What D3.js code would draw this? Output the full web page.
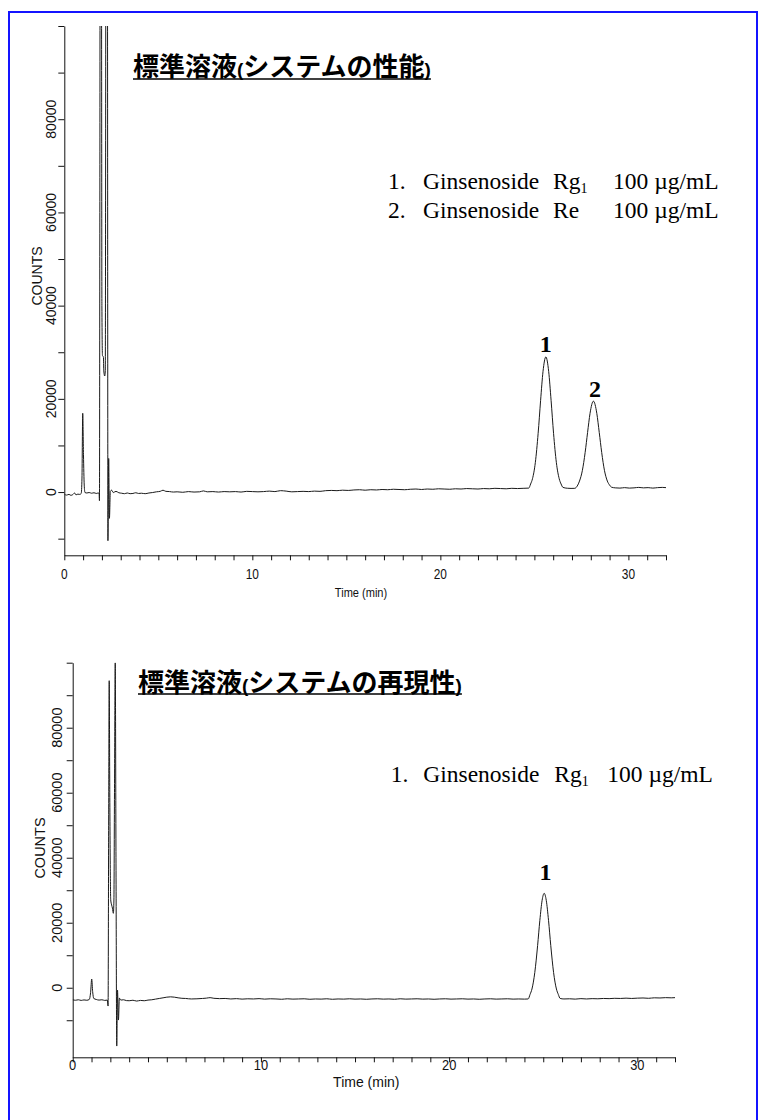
<!DOCTYPE html>
<html><head><meta charset="utf-8">
<script src="https://cdn.jsdelivr.net/npm/d3@7"></script>
<style>html,body{margin:0;padding:0;background:#fff;} svg{display:block;}</style>
</head><body>
<svg id="c" width="760" height="1120"></svg>
<script>
// ---------- DATA ----------
const timeMax = 32;
const countMax = 100000;
const timeTicks = d3.range(0, 33, 1);
const timeLabels = [0, 10, 20, 30];
const countTicks = d3.range(-10000, 100001, 10000);
const countLabels = [0, 20000, 40000, 60000, 80000];

const titleTop = ["標準溶液", "(", "システムの性能", ")"];
const titleBottom = ["標準溶液", "(", "システムの再現性", ")"];

const legendTop = [
  {num: "1.", name: "Ginsenoside", comp: "Rg", sub: "1", conc: "100 µg/mL"},
  {num: "2.", name: "Ginsenoside", comp: "Re", sub: "", conc: "100 µg/mL"}
];
const legendBottom = [
  {num: "1.", name: "Ginsenoside", comp: "Rg", sub: "1", conc: "100 µg/mL"}
];

// peak label anchors [time, counts, label]
const peakLabelsTop = [[25.61, 30060, "1"], [28.23, 20420, "2"]];
const peakLabelsBottom = [[25.12, 33140, "1"]];

// chromatogram traces [time (min), counts]
const traceTop = [
[0.00,-450],[0.12,-650],[0.25,-500],[0.35,-700],[0.45,-550],[0.55,-200],[0.62,-600],[0.72,-450],[0.82,-500],[0.90,-300],
[0.94,3000],[0.98,16900],[1.02,8000],[1.06,1500],[1.10,-100],[1.20,-200],[1.32,-100],[1.45,-250],[1.58,-150],[1.70,-300],
[1.80,-200],[1.85,-250],[1.87,-1860],[1.89,60000],[1.91,140000],[1.97,140000],[2.00,40000],[2.03,29300],[2.08,29000],[2.10,26000],
[2.15,24900],[2.18,26000],[2.22,140000],[2.29,140000],[2.32,-10440],[2.36,7200],[2.40,-5640],[2.45,200],[2.52,400],[2.60,-100],
[2.75,150],[2.90,-150],[3.05,-250],[3.20,-350],[3.35,-200],[3.50,-350],[3.65,-300],[3.80,-150],[3.95,-300],[4.10,-250],
[4.30,-350],[4.50,-200],[4.70,-100],[4.90,50],[5.10,150],[5.25,400],[5.40,150],[5.60,100],[5.80,0],[6.00,50],
[6.30,-50],[6.60,100],[6.90,0],[7.20,50],[7.40,250],[7.60,50],[7.90,100],[8.20,0],[8.50,100],[8.80,50],
[9.10,100],[9.40,0],[9.70,150],[10.00,100],[10.30,50],[10.60,100],[10.90,200],[11.20,100],[11.50,300],[11.80,200],
[12.10,50],[12.40,100],[12.70,150],[13.00,100],[13.30,200],[13.60,150],[13.90,300],[14.20,350],[14.50,300],[14.80,400],
[15.10,350],[15.40,450],[15.70,500],[16.00,400],[16.30,500],[16.60,450],[16.90,550],[17.20,500],[17.50,600],[17.80,550],
[18.10,500],[18.40,600],[18.70,650],[19.00,550],[19.30,650],[19.60,600],[19.90,700],[20.20,650],[20.50,600],[20.80,700],
[21.10,650],[21.40,750],[21.70,700],[22.00,650],[22.30,750],[22.60,700],[22.90,800],[23.20,750],[23.50,700],[23.80,800],
[24.10,750],[24.40,800],[24.70,850],[24.80,1730],[24.90,2860],[25.05,6300],[25.20,12600],[25.33,19600],[25.46,25900],[25.61,29000],
[25.76,25900],[25.89,19600],[26.02,12600],[26.17,6300],[26.32,2860],[26.42,1730],[26.52,1000],[26.75,820],[26.95,780],[27.15,800],
[27.28,1300],[27.40,2360],[27.55,4580],[27.70,8500],[27.83,12790],[27.96,16890],[28.14,19500],[28.32,16890],[28.45,12790],[28.58,8500],
[28.73,4580],[28.88,2360],[29.00,1500],[29.10,1050],[29.30,900],[29.55,850],[29.80,950],[30.05,850],[30.30,900],[30.55,1000],
[30.80,900],[31.05,950],[31.30,850],[31.55,950],[31.80,1000],[32.00,950]
];

const traceBottom = [
[0.00,-3700],[0.15,-3850],[0.30,-3700],[0.45,-3900],[0.60,-3750],[0.75,-3850],[0.88,-3600],[0.95,-1500],[1.01,2680],[1.06,-1200],
[1.12,-3300],[1.25,-3600],[1.40,-3800],[1.55,-3700],[1.70,-3900],[1.84,-3800],[1.88,-5630],[1.91,50000],[1.94,94460],[1.97,60000],
[2.02,27000],[2.07,25450],[2.11,24500],[2.16,22900],[2.19,27000],[2.22,60000],[2.26,100000],[2.30,40000],[2.34,-17940],[2.38,-700],
[2.43,-9940],[2.48,-3200],[2.56,-3800],[2.70,-3700],[2.85,-3950],[3.00,-4000],[3.20,-3850],[3.40,-4100],[3.60,-3900],[3.80,-4000],
[4.00,-3800],[4.20,-3700],[4.40,-3500],[4.60,-3300],[4.80,-3100],[5.00,-2900],[5.20,-2800],[5.40,-2900],[5.60,-3100],[5.80,-3250],
[6.00,-3300],[6.30,-3450],[6.60,-3400],[6.90,-3300],[7.10,-3200],[7.30,-3050],[7.50,-3250],[7.80,-3350],[8.10,-3300],[8.40,-3450],
[8.70,-3350],[9.00,-3500],[9.30,-3400],[9.60,-3450],[9.90,-3350],[10.20,-3500],[10.50,-3400],[10.80,-3450],[11.10,-3550],[11.40,-3400],
[11.70,-3500],[12.00,-3450],[12.30,-3400],[12.60,-3550],[12.90,-3450],[13.20,-3500],[13.50,-3400],[13.80,-3550],[14.10,-3450],[14.40,-3500],
[14.70,-3400],[15.00,-3500],[15.30,-3450],[15.60,-3550],[15.90,-3450],[16.20,-3400],[16.50,-3500],[16.80,-3450],[17.10,-3550],[17.40,-3400],
[17.70,-3500],[18.00,-3450],[18.30,-3400],[18.60,-3500],[18.90,-3450],[19.20,-3550],[19.50,-3450],[19.80,-3400],[20.10,-3500],[20.40,-3450],
[20.70,-3400],[21.00,-3500],[21.30,-3450],[21.60,-3550],[21.90,-3450],[22.20,-3400],[22.50,-3500],[22.80,-3450],[23.10,-3400],[23.40,-3500],
[23.70,-3450],[24.00,-3500],[24.20,-3450],[24.30,-2050],[24.40,-390],[24.55,4650],[24.70,12950],[24.82,20750],[24.94,26900],[25.05,29050],
[25.16,26900],[25.28,20750],[25.40,12950],[25.55,4650],[25.70,-390],[25.80,-2050],[25.90,-3300],[26.10,-3450],[26.40,-3400],[26.70,-3500],
[27.00,-3350],[27.30,-3450],[27.60,-3350],[27.90,-3400],[28.20,-3300],[28.50,-3350],[28.80,-3250],[29.10,-3300],[29.40,-3200],[29.70,-3300],
[30.00,-3200],[30.30,-3150],[30.60,-3250],[30.90,-3100],[31.20,-3150],[31.50,-3050],[31.80,-3100],[32.00,-3050]
];

// ---------- DRAWING ----------
const svg = d3.select("#c");
const defs = svg.append("defs");
svg.append("rect").attr("x", 9).attr("y", 12).attr("width", 748).attr("height", 1130)
  .attr("fill", "none").attr("stroke", "#1414ff").attr("stroke-width", 2);

const SANS = "'Liberation Sans', Arial, sans-serif";
const SERIF = "'Liberation Serif', 'Times New Roman', serif";
const CJK = "'Noto Sans CJK JP', 'Noto Sans CJK SC', sans-serif";

function chart(o) {
  const g = svg.append("g");
  const x = d3.scaleLinear().domain([0, timeMax]).range([o.x0, o.x1]);
  const y = d3.scaleLinear().domain([o.yMin, countMax]).range([o.y1, o.y0]);

  defs.append("clipPath").attr("id", o.key).append("rect")
    .attr("x", o.x0).attr("y", o.y0).attr("width", o.x1 - o.x0).attr("height", o.y1 - o.y0);

  const ya = g.append("g").attr("transform", `translate(${o.x0},0)`)
    .call(d3.axisLeft(y).tickValues(countTicks).tickSize(6).tickSizeOuter(0).tickFormat(""));
  const xa = g.append("g").attr("transform", `translate(0,${o.y1})`)
    .call(d3.axisBottom(x).tickValues(timeTicks).tickSize(5).tickSizeOuter(0).tickFormat(""));
  [ya, xa].forEach(a => { a.selectAll("path,line").attr("stroke", "#111").attr("stroke-width", 1); });

  countLabels.forEach(v => {
    g.append("text").attr("transform", `translate(${o.yLabX},${y(v)}) rotate(-90)`)
      .attr("text-anchor", "middle").attr("font-family", SANS).attr("font-size", o.yFont)
      .attr("fill", "#111").text(v);
  });
  g.append("text").attr("transform", `translate(${o.countsX},${o.countsY}) rotate(-90)`)
    .attr("text-anchor", "middle").attr("font-family", SANS).attr("font-size", o.yFont)
    .attr("fill", "#111").text("COUNTS");

  timeLabels.forEach(t => {
    g.append("text").attr("transform", `translate(${x(t)},${o.xLabY}) scale(${o.xScale},1)`)
      .attr("text-anchor", "middle").attr("font-family", SANS).attr("font-size", 14)
      .attr("fill", "#111").text(t);
  });
  g.append("text").attr("transform", `translate(${o.timeX},${o.timeY}) scale(${o.timeScale},1)`)
    .attr("text-anchor", "middle").attr("font-family", SANS).attr("font-size", o.timeFont)
    .attr("fill", "#111").text("Time (min)");

  const line = d3.line().x(d => x(d[0])).y(d => y(d[1])).curve(d3.curveMonotoneX);
  g.append("path").datum(o.trace).attr("clip-path", `url(#${o.key})`)
    .attr("d", line).attr("fill", "none").attr("stroke", "#1a1a1a").attr("stroke-width", 1);

  o.peaks.forEach(p => {
    g.append("text").attr("x", x(p[0])).attr("y", y(p[1])).attr("text-anchor", "middle")
      .attr("font-family", SERIF).attr("font-weight", "bold").attr("font-size", 24)
      .attr("fill", "#000").text(p[2]);
  });

  // title
  const tt = g.append("text").attr("x", o.titleX).attr("y", o.titleY)
    .attr("font-weight", "bold").attr("fill", "#000");
  o.title.forEach((s, i) => {
    const paren = (s === "(" || s === ")");
    tt.append("tspan").attr("font-family", paren ? SANS : CJK)
      .attr("font-size", paren ? 19 : 26).text(s);
  });
  const tl = tt.node().getComputedTextLength();
  g.append("line").attr("x1", o.titleX).attr("x2", o.titleX + tl)
    .attr("y1", o.underY).attr("y2", o.underY).attr("stroke", "#000").attr("stroke-width", 1.6);

  // legend
  o.legend.forEach((L, i) => {
    const t = g.append("text").attr("y", o.legY[i]).attr("font-family", SERIF)
      .attr("font-size", 23.5).attr("fill", "#000");
    t.append("tspan").attr("x", o.legX[0]).text(L.num);
    t.append("tspan").attr("x", o.legX[1]).text(L.name);
    t.append("tspan").attr("x", o.legX[2]).text(L.comp);
    if (L.sub) t.append("tspan").attr("dy", 4).attr("font-size", 14).text(L.sub);
    t.append("tspan").attr("x", o.legX[3]).attr("y", o.legY[i]).text(L.conc);
  });
}

chart({
  key: "clipTop", trace: traceTop, peaks: peakLabelsTop, legend: legendTop, title: titleTop,
  x0: 64.3, x1: 666, y0: 26, y1: 555.3, yMin: -13570,
  yLabX: 55.5, yFont: 14, countsX: 42, countsY: 276,
  xLabY: 579.3, xScale: 0.85, timeX: 361, timeY: 596.7, timeFont: 13, timeScale: 0.85,
  titleX: 133, titleY: 75.5, underY: 79,
  legX: [388, 423, 553, 613], legY: [189.3, 217.7]
});
chart({
  key: "clipBottom", trace: traceBottom, peaks: peakLabelsBottom, legend: legendBottom, title: titleBottom,
  x0: 72.7, x1: 675, y0: 662.7, y1: 1057.3, yMin: -21400,
  yLabX: 61.5, yFont: 14.5, countsX: 45, countsY: 848,
  xLabY: 1070, xScale: 0.92, timeX: 366.3, timeY: 1087, timeFont: 14, timeScale: 1,
  titleX: 138, titleY: 691.5, underY: 694,
  legX: [390.7, 423.3, 554.3, 607.3], legY: [781.7]
});
</script>
</body></html>
